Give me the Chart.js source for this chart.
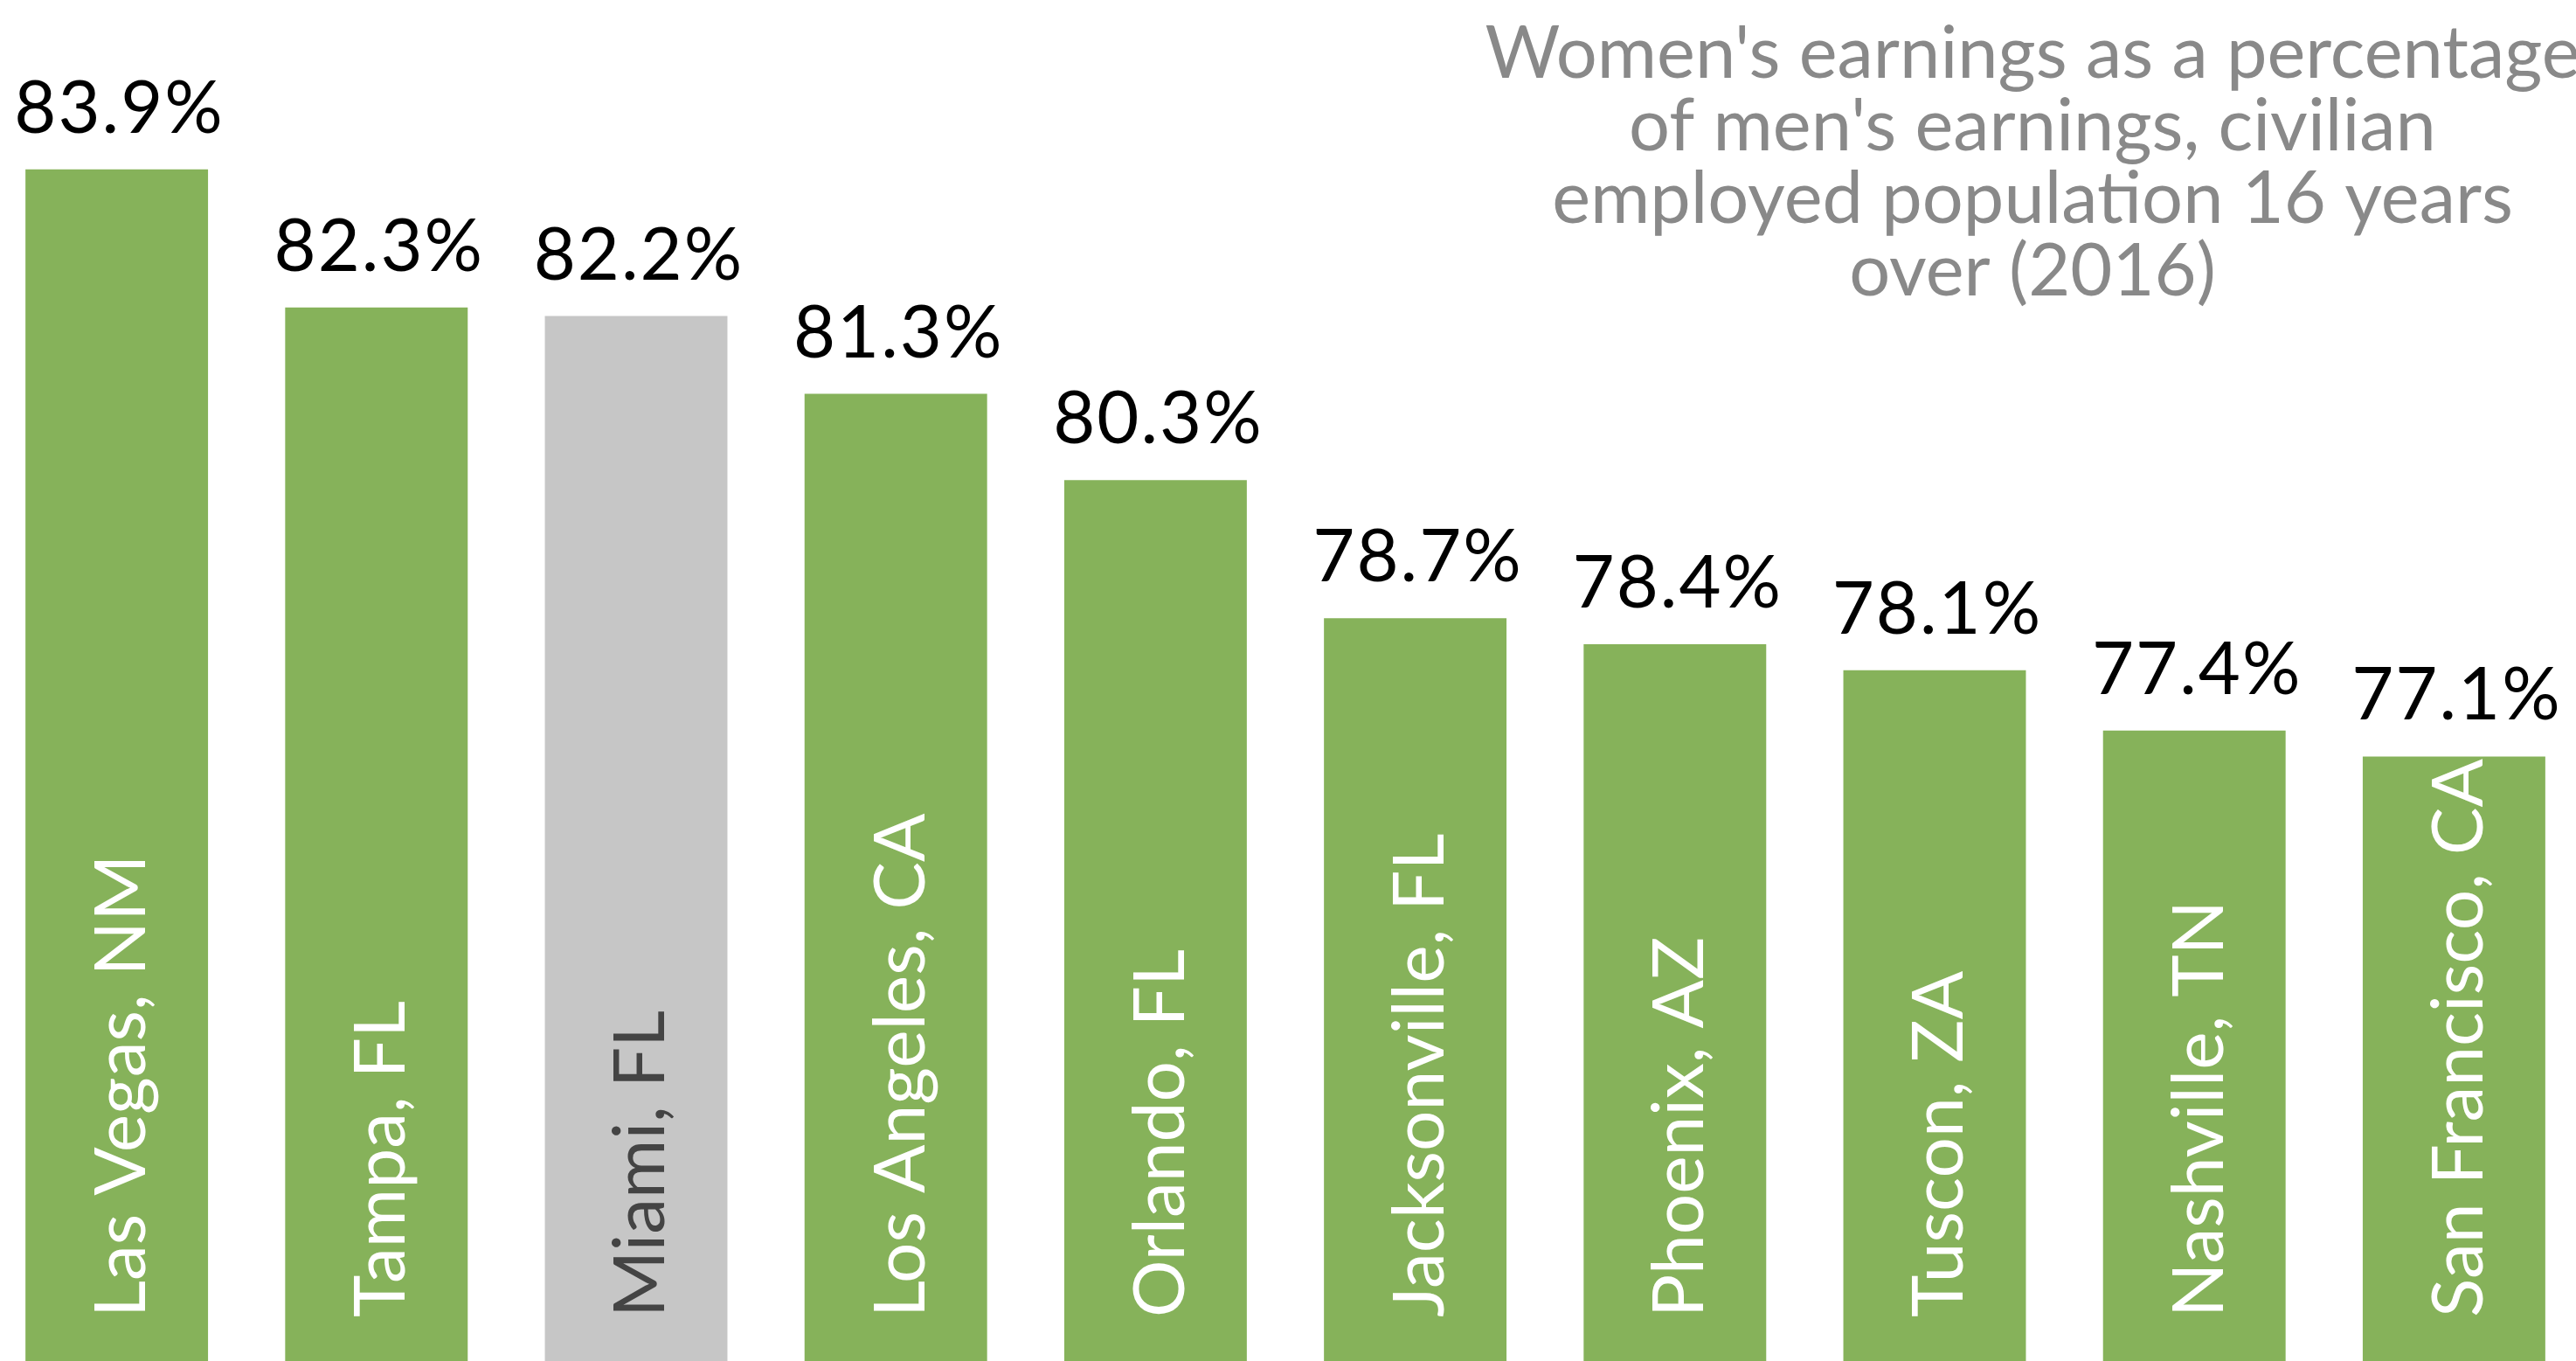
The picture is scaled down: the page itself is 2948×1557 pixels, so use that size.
<!DOCTYPE html>
<html>
<head>
<meta charset="utf-8">
<script src="https://cdn.jsdelivr.net/npm/chart.js@4/dist/chart.umd.min.js"></script>
<style>
  html, body { margin: 0; padding: 0; background: #ffffff; overflow: hidden; }
  #wrap { position: absolute; left: -15px; top: 0; width: 2972px; height: 1557px; }
</style>
</head>
<body>
<div id="wrap"><canvas id="grafico"></canvas></div>
<script>
// cidades e valores (% dos ganhos dos homens)
var cidades = ['Las Vegas, NM', 'Tampa, FL', 'Miami, FL', 'Los Angeles, CA', 'Orlando, FL',
  'Jacksonville, FL', 'Phoenix, AZ', 'Tuscon, ZA', 'Nashville, TN', 'San Francisco, CA'];
var valores = [83.9, 82.3, 82.2, 81.3, 80.3, 78.7, 78.4, 78.1, 77.4, 77.1];
var rotulos = ['83.9%', '82.3%', '82.2%', '81.3%', '80.3%', '78.7%', '78.4%', '78.1%', '77.4%', '77.1%'];
var destaque = 'Miami, FL';
var titulo = ["Women's earnings as a percentage", "of men's earnings, civilian",
  'employed population 16 years', 'over (2016)'];

var verde = '#86b25a';
var cinza = '#c6c6c6';

var cores = [];
for (var i = 0; i < cidades.length; i++) {
  cores.push(cidades[i] == destaque ? cinza : verde);
}

// desenha os textos: valores em cima, nomes dentro das barras, titulo
const textosPlugin = {
  id: 'textos',
  afterDatasetsDraw(chart) {
    const ctx = chart.ctx;
    const meta = chart.getDatasetMeta(0);
    ctx.save();
    meta.data.forEach(function (barra, i) {
      // valor
      ctx.fillStyle = '#000000';
      ctx.font = '83px Lato';
      ctx.letterSpacing = '2px';
      ctx.textAlign = 'center';
      ctx.textBaseline = 'alphabetic';
      ctx.fillText(rotulos[i], barra.x + 3, barra.y - 42);
      ctx.letterSpacing = '0px';

      // nome da cidade (vertical)
      ctx.save();
      ctx.translate(barra.x + 6, chart.chartArea.bottom - 50);
      ctx.rotate(-Math.PI / 2);
      ctx.fillStyle = cidades[i] == destaque ? '#444444' : '#ffffff';
      ctx.font = '82px Lato';
      ctx.textAlign = 'left';
      ctx.textBaseline = 'middle';
      ctx.fillText(cidades[i], 0, 0);
      ctx.restore();
    });

    // titulo
    ctx.fillStyle = '#898989';
    ctx.font = '83px Lato';
    ctx.textAlign = 'center';
    ctx.textBaseline = 'alphabetic';
    for (var l = 0; l < titulo.length; l++) {
      ctx.fillText(titulo[l], 2326 + 15, 89 + l * 83);
    }
    ctx.restore();
  }
};

const config = {
  type: 'bar',
  data: {
    labels: cidades,
    datasets: [{
      data: valores,
      backgroundColor: cores,
      borderWidth: 0,
      barPercentage: 0.703,
      categoryPercentage: 1.0
    }]
  },
  options: {
    responsive: true,
    maintainAspectRatio: false,
    animation: false,
    layout: { padding: 0 },
    plugins: {
      legend: { display: false },
      tooltip: { enabled: false },
      title: { display: false }
    },
    scales: {
      x: { display: false, offset: true, grid: { display: false } },
      y: { display: false, min: 70.1, max: 85.86, grid: { display: false } }
    }
  },
  plugins: [textosPlugin]
};

let grafico = new Chart(document.getElementById('grafico'), config);
</script>
</body>
</html>
